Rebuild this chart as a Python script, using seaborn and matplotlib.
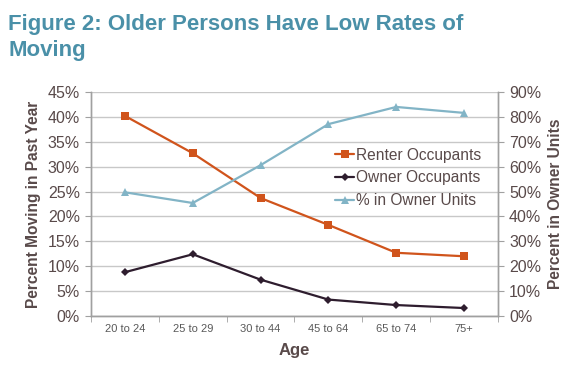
import matplotlib
matplotlib.use("Agg")
import matplotlib.pyplot as plt
import seaborn as sns
import pandas as pd
import numpy as np

ages = ["20 to 24", "25 to 29", "30 to 44", "45 to 64", "65 to 74", "75+"]
renter = [40.2, 32.7, 23.7, 18.3, 12.7, 12.0]
owner = [8.8, 12.4, 7.3, 3.3, 2.2, 1.6]
owner_units = [49.7, 45.4, 60.6, 77.1, 84.0, 81.6]
left_ticks = [0, 5, 10, 15, 20, 25, 30, 35, 40, 45]
right_ticks = [0, 10, 20, 30, 40, 50, 60, 70, 80, 90]

sns.set_style("white")
plt.rcParams['font.family'] = ['Liberation Sans', 'DejaVu Sans']

df = pd.DataFrame({"pos": np.arange(len(ages)), "age": ages,
                   "renter": renter, "owner": owner, "units": owner_units})

fig = plt.figure(figsize=(5.76, 3.67), dpi=100)
ax = fig.add_axes([91/576, 1-316/367, (498-91)/576, (316-92)/367])
ax2 = ax.twinx()

c_r = "#D0541C"
c_o = "#2E1D2E"
c_u = "#82B4C6"
grid_c = "#C8C8C8"
txt_c = "#594A4A"

sns.lineplot(data=df, x="pos", y="renter", ax=ax, color=c_r, marker="s",
             markersize=6, markeredgewidth=0, linewidth=1.6, label="Renter Occupants")
sns.lineplot(data=df, x="pos", y="owner", ax=ax, color=c_o, marker="D",
             markersize=4, markeredgewidth=0, linewidth=1.6, label="Owner Occupants")
sns.lineplot(data=df, x="pos", y="units", ax=ax2, color=c_u, marker="^",
             markersize=6, markeredgewidth=0, linewidth=1.6, label="% in Owner Units")

ax.set_xlim(-0.5, len(ages) - 0.5)
ax.set_ylim(0, 45)
ax2.set_ylim(0, 90)
ax.set_yticks(left_ticks)
ax.set_yticklabels([f"{t}%" for t in left_ticks], color=txt_c, fontsize=11.5)
ax2.set_yticks(right_ticks)
ax2.set_yticklabels([f"{t}%" for t in right_ticks], color=txt_c, fontsize=11.5)
ax.set_xticks(df["pos"])
ax.set_xticklabels(ages, fontsize=8, color="#595959")
ax.set_xticks(np.arange(-0.5, len(ages), 1.0), minor=True)
ax.tick_params(axis="x", which="major", length=0, pad=6)
ax.tick_params(axis="x", which="minor", length=4, color="#A0A0A0", direction="out")
ax.tick_params(axis="y", length=4, color="#A0A0A0", direction="out", pad=4)
ax2.tick_params(axis="y", length=4, color="#A0A0A0", direction="out", pad=4)
ax.xaxis.set_ticks_position("bottom")
ax.yaxis.set_ticks_position("left")
ax2.yaxis.set_ticks_position("right")

ax.grid(axis="y", color=grid_c, linewidth=1)
ax.set_axisbelow(True)
for a in (ax, ax2):
    a.spines["top"].set_visible(False)
    for s in ("left", "right", "bottom"):
        a.spines[s].set_color("#A0A0A0")
        a.spines[s].set_linewidth(1)

ax.set_xlabel("Age", fontsize=12, fontweight="bold", color=txt_c, labelpad=6)
ax.set_ylabel("Percent Moving in Past Year", fontsize=11.2, fontweight="bold", color=txt_c, labelpad=5)
ax2.set_ylabel("Percent in Owner Units", fontsize=11.2, fontweight="bold", color=txt_c, labelpad=5)

h1, l1 = ax.get_legend_handles_labels()
h2, l2 = ax2.get_legend_handles_labels()
if ax2.get_legend():
    ax2.get_legend().remove()
ax.legend(h1 + h2, l1 + l2, loc="upper left", bbox_to_anchor=(0.585, 0.78),
          frameon=False, fontsize=11.2, handlelength=1.2, handletextpad=0.12,
          labelspacing=0.5, labelcolor=txt_c, borderaxespad=0)

fig.text(8/576, 1-14/367, "Figure 2: Older Persons Have Low Rates of\nMoving",
         fontsize=16, fontweight="bold", color="#4A90A8", va="top", ha="left",
         linespacing=1.3)

fig.savefig("out.png", dpi=100)
